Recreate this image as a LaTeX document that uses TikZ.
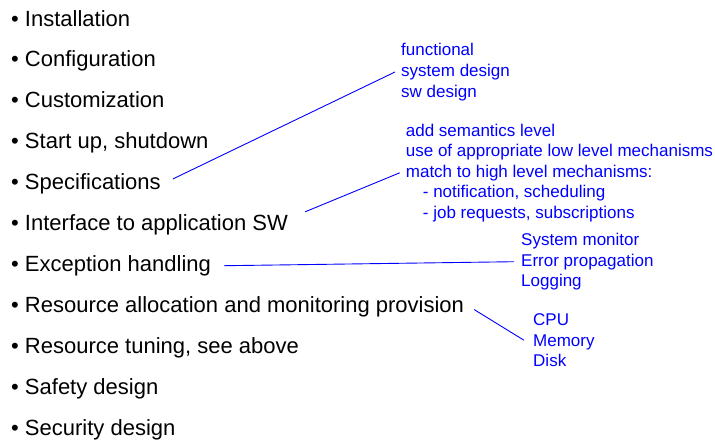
\documentclass[tikz,border=0pt]{standalone}
\usepackage{fontspec}
\setmainfont{Liberation Sans}
\usetikzlibrary{positioning}
\begin{document}
\begin{tikzpicture}[x=1pt,y=-1pt,
  item/.style={anchor=base west,inner sep=0pt,font=\fontsize{22}{24}\selectfont},
  note/.style={anchor=base west,align=left,inner sep=0pt,text=blue,
    font=\fontsize{17}{20.6}\selectfont},
  link/.style={draw=blue,line width=0.9pt}
]
  \useasboundingbox (0,0) rectangle (715,442);
  % bullet list
  \node[item] (install)  at (11,26)    {• Installation};
  \node[item] (config)   at (11,66.9)  {• Configuration};
  \node[item] (custom)   at (11,107.8) {• Customization};
  \node[item] (startup)  at (11,148.7) {• Start up, shutdown};
  \node[item] (specs)    at (11,189.6) {• Specifications};
  \node[item] (iface)    at (11,230.5) {• Interface to application SW};
  \node[item] (except)   at (11,271.4) {• Exception handling};
  \node[item] (resalloc) at (11,312.3) {• Resource allocation and monitoring provision};
  \node[item] (restune)  at (11,353.2) {• Resource tuning, see above};
  \node[item] (safety)   at (11,394.1) {• Safety design};
  \node[item] (security) at (11,435)   {• Security design};
  % notes (anchored at the baseline of their last line)
  \node[note] (specnote) at (401,97)
    {functional\\system design\\sw design};
  \node[note] (ifacenote) at (405.7,218.4)
    {add semantics level\\use of appropriate low level mechanisms\\
     match to high level mechanisms:\\
     \hspace*{17pt}- notification, scheduling\\
     \hspace*{17pt}- job requests, subscriptions};
  \node[note] (exceptnote) at (521,286.7)
    {System monitor\\Error propagation\\Logging};
  \node[note] (resnote) at (533,366.7)
    {CPU\\Memory\\Disk};
  % links
  \draw[link] ([xshift=12pt,yshift=5pt]specs.east) -- ([xshift=-6pt]specnote.west);
  \draw[link] ([xshift=17pt,yshift=13pt]iface.east) -- ([xshift=-6pt]ifacenote.west);
  \draw[link] ([xshift=13pt]except.east) -- ([xshift=-7pt]exceptnote.west);
  \draw[link] ([xshift=10pt,yshift=-3pt]resalloc.east) -- ([xshift=-9pt]resnote.west);
\end{tikzpicture}
\end{document}
